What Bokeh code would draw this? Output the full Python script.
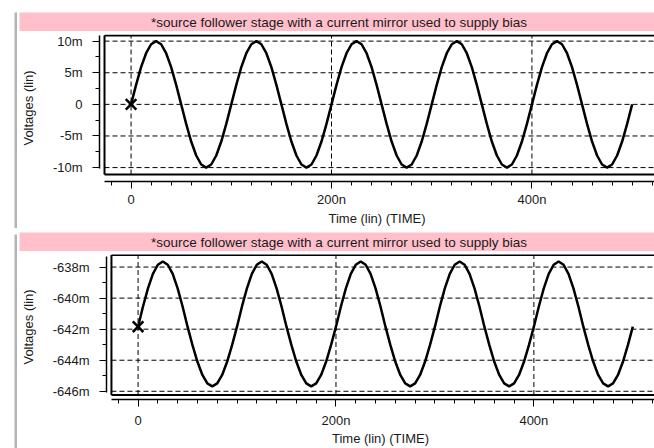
from bokeh.plotting import figure
from bokeh.layouts import column, row
from bokeh.models import FixedTicker, Range1d
from bokeh.core.properties import value
from bokeh.embed import file_html
from bokeh.resources import INLINE

TITLE = "*source follower stage with a current mirror used to supply bias"
X_LABEL = "Time (lin) (TIME)"
Y_LABEL = "Voltages (lin)"

# time in ns
time_ns = [0, 5, 10, 15, 20, 25, 30, 35, 40, 45, 50, 55, 60, 65, 70, 75, 80, 85, 90, 95,
           100, 105, 110, 115, 120, 125, 130, 135, 140, 145, 150, 155, 160, 165, 170, 175, 180, 185, 190, 195,
           200, 205, 210, 215, 220, 225, 230, 235, 240, 245, 250, 255, 260, 265, 270, 275, 280, 285, 290, 295,
           300, 305, 310, 315, 320, 325, 330, 335, 340, 345, 350, 355, 360, 365, 370, 375, 380, 385, 390, 395,
           400, 405, 410, 415, 420, 425, 430, 435, 440, 445, 450, 455, 460, 465, 470, 475, 480, 485, 490, 495,
           500]

# top panel voltage in mV
v_top_mv = [0, 3.09, 5.88, 8.09, 9.51, 10, 9.51, 8.09, 5.88, 3.09, 0, -3.09, -5.88, -8.09, -9.51, -10, -9.51, -8.09, -5.88, -3.09,
            0, 3.09, 5.88, 8.09, 9.51, 10, 9.51, 8.09, 5.88, 3.09, 0, -3.09, -5.88, -8.09, -9.51, -10, -9.51, -8.09, -5.88, -3.09,
            0, 3.09, 5.88, 8.09, 9.51, 10, 9.51, 8.09, 5.88, 3.09, 0, -3.09, -5.88, -8.09, -9.51, -10, -9.51, -8.09, -5.88, -3.09,
            0, 3.09, 5.88, 8.09, 9.51, 10, 9.51, 8.09, 5.88, 3.09, 0, -3.09, -5.88, -8.09, -9.51, -10, -9.51, -8.09, -5.88, -3.09,
            0, 3.09, 5.88, 8.09, 9.51, 10, 9.51, 8.09, 5.88, 3.09, 0, -3.09, -5.88, -8.09, -9.51, -10, -9.51, -8.09, -5.88, -3.09,
            0]

# bottom panel voltage in mV
v_bot_mv = [-641.84, -640.54, -639.37, -638.44, -637.85, -637.64, -637.85, -638.44, -639.37, -640.54,
            -641.84, -643.03, -644.10, -644.95, -645.49, -645.68, -645.49, -644.95, -644.10, -643.03,
            -641.84, -640.54, -639.37, -638.44, -637.85, -637.64, -637.85, -638.44, -639.37, -640.54,
            -641.84, -643.03, -644.10, -644.95, -645.49, -645.68, -645.49, -644.95, -644.10, -643.03,
            -641.84, -640.54, -639.37, -638.44, -637.85, -637.64, -637.85, -638.44, -639.37, -640.54,
            -641.84, -643.03, -644.10, -644.95, -645.49, -645.68, -645.49, -644.95, -644.10, -643.03,
            -641.84, -640.54, -639.37, -638.44, -637.85, -637.64, -637.85, -638.44, -639.37, -640.54,
            -641.84, -643.03, -644.10, -644.95, -645.49, -645.68, -645.49, -644.95, -644.10, -643.03,
            -641.84, -640.54, -639.37, -638.44, -637.85, -637.64, -637.85, -638.44, -639.37, -640.54,
            -641.84, -643.03, -644.10, -644.95, -645.49, -645.68, -645.49, -644.95, -644.10, -643.03,
            -641.84]

x_ticks = [0, 200, 400]
x_tick_labels = ["0", "200n", "400n"]
x_minor = [-20, 20, 40, 60, 80, 100, 120, 140, 160, 180, 220, 240, 260, 280, 300, 320, 340, 360, 380,
           420, 440, 460, 480, 500, 520]

top_y_ticks = [-10, -5, 0, 5, 10]
top_y_labels = ["-10m", "-5m", "0", "5m", "10m"]
top_y_minor = [-7.5, -2.5, 2.5, 7.5]
top_cursor = [0.0]

bot_y_ticks = [-646, -644, -642, -640, -638]
bot_y_labels = ["-646m", "-644m", "-642m", "-640m", "-638m"]
bot_y_minor = [-645, -643, -641, -639]
bot_cursor = [-641.84]

FONT = "Liberation Sans"
TXT = "#1a1a1a"
PINK = "#ffc0cb"
GREY = "#b4b4b4"


def bare(width, height, left, top, fill):
    p = figure(width=width, height=height, output_backend="svg", toolbar_location=None,
               x_range=Range1d(0, 1), y_range=Range1d(0, 1),
               x_axis_location=None, y_axis_location=None,
               min_border_left=left, min_border_right=0, min_border_top=top, min_border_bottom=0,
               outline_line_color=None, background_fill_color=fill, border_fill_color="white")
    p.grid.visible = False
    return p


def title_bar(height, top):
    p = bare(637, height, 2, top, PINK)
    p.text(x=[0.5], y=[0.5], text=[TITLE], text_font=value(FONT), text_font_size="13.5px",
           text_color=TXT, text_align="center", text_baseline="middle", x_offset=2)
    return p


def panel(v, yt, yl, ym, cursor, xr, yr, inner_left, inner_bottom, top_line, ybounds,
          mb_left, mb_bottom, y_lab_standoff, x_lab_std, x_axlab_std):
    p = figure(width=637, height=197, output_backend="svg", toolbar_location=None,
               x_range=Range1d(*xr), y_range=Range1d(*yr),
               min_border_left=mb_left, min_border_right=0, min_border_top=3,
               min_border_bottom=mb_bottom, outline_line_color=None,
               background_fill_color="white", border_fill_color="white")
    p.grid.visible = False

    xa = p.xaxis[0]
    xa.ticker = FixedTicker(ticks=x_ticks, minor_ticks=x_minor)
    xa.major_label_overrides = dict(zip(x_ticks, x_tick_labels))
    xa.bounds = (inner_left, xr[1])
    xa.axis_label = X_LABEL
    xa.axis_label_standoff = x_axlab_std
    xa.major_label_standoff = x_lab_std

    ya = p.yaxis[0]
    ya.ticker = FixedTicker(ticks=yt, minor_ticks=ym)
    ya.major_label_overrides = dict(zip(yt, yl))
    ya.bounds = ybounds
    ya.axis_label = Y_LABEL
    ya.axis_label_standoff = y_lab_standoff
    ya.major_label_standoff = 10

    for ax in (xa, ya):
        ax.axis_line_color = "black"
        ax.axis_line_width = 1.5
        ax.major_tick_line_color = "black"
        ax.minor_tick_line_color = "black"
        ax.major_tick_out = 7
        ax.major_tick_in = 0
        ax.minor_tick_out = 4
        ax.minor_tick_in = 0
        ax.major_label_text_font = FONT
        ax.major_label_text_font_size = "13px"
        ax.major_label_text_color = TXT
        ax.axis_label_text_font = FONT
        ax.axis_label_text_font_size = "13px"
        ax.axis_label_text_font_style = "normal"
        ax.axis_label_text_color = TXT

    # dashed grid lines, inside the inner frame
    p.segment(x0=x_ticks, x1=x_ticks, y0=[inner_bottom] * len(x_ticks), y1=[top_line] * len(x_ticks),
              line_color="black", line_width=1, line_dash="5 3")
    p.segment(x0=[inner_left] * len(yt), x1=[xr[1]] * len(yt), y0=yt, y1=yt,
              line_color="black", line_width=1, line_dash="5 3")

    # inner frame
    p.segment(x0=[inner_left, inner_left, inner_left], x1=[inner_left, xr[1], xr[1]],
              y0=[inner_bottom, inner_bottom, top_line], y1=[top_line, inner_bottom, top_line],
              line_color="black", line_width=2)

    p.line(time_ns, v, line_color="black", line_width=2.5)
    p.scatter([0], cursor, marker="x", size=15, line_color="black", line_width=2.5)
    return p


top = panel(v_top_mv, top_y_ticks, top_y_labels, top_y_minor, top_cursor,
            xr=(-31.5, 522.3), yr=(-12.2, 11.05), inner_left=-26.5, inner_bottom=-11.1,
            top_line=10.9, ybounds=(-10.2, 10.9), mb_left=80, mb_bottom=46,
            y_lab_standoff=14, x_lab_std=3, x_axlab_std=1)
bot = panel(v_bot_mv, bot_y_ticks, bot_y_labels, bot_y_minor, bot_cursor,
            xr=(-31.9, 521.9), yr=(-646.53, -637.19), inner_left=-26.9, inner_bottom=-646.24,
            top_line=-637.22, ybounds=(-646.1, -637.3), mb_left=88, mb_bottom=48,
            y_lab_standoff=14, x_lab_std=6, x_axlab_std=0)

upper = row(bare(17, 228, 14, 12, GREY),
            column(row(title_bar(31, 12), spacing=0), row(top, spacing=0), spacing=0), spacing=0)
lower = row(bare(17, 220, 14, 6, GREY),
            column(row(title_bar(23, 4), spacing=0), row(bot, spacing=0), spacing=0), spacing=0)
layout = column(upper, lower, spacing=0)
open("out.html", "w").write(file_html(layout, INLINE))
